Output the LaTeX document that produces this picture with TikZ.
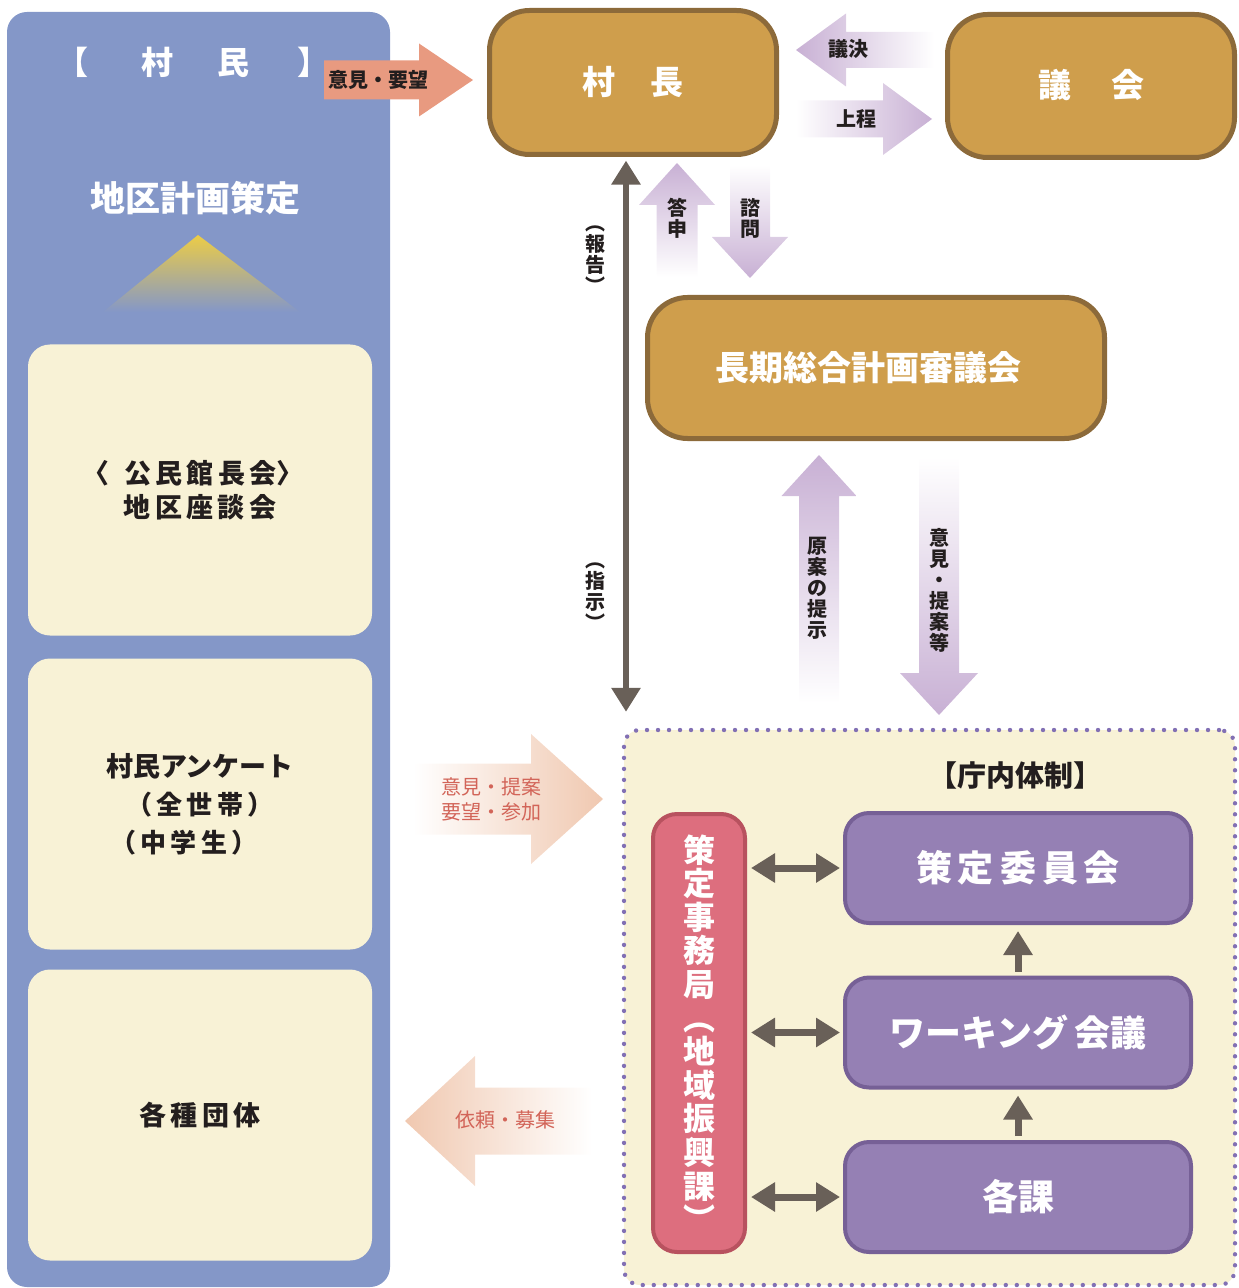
\documentclass[tikz,border=0pt]{standalone}
\usepackage{fontspec}
\setmainfont{Noto Sans CJK JP}
\usetikzlibrary{arrows.meta}

\definecolor{panelblue}{RGB}{132,151,200}
\definecolor{cream}{RGB}{248,242,214}
\definecolor{gold}{RGB}{207,158,76}
\definecolor{goldline}{RGB}{140,106,58}
\definecolor{rosefill}{RGB}{221,110,126}
\definecolor{roseline}{RGB}{184,82,95}
\definecolor{violetfill}{RGB}{149,128,180}
\definecolor{violetline}{RGB}{118,96,150}
\definecolor{dotviolet}{RGB}{130,112,180}
\definecolor{arrowgray}{RGB}{105,96,88}
\definecolor{lilac}{RGB}{200,176,212}
\definecolor{peach}{RGB}{240,200,176}
\definecolor{salmon}{RGB}{232,154,128}
\definecolor{redtext}{RGB}{210,100,88}
\definecolor{ink}{RGB}{35,30,30}
\definecolor{sunyellow}{RGB}{236,204,70}

\newcommand\harrow[7][]{%
  \path[#1] (#2,{#4-#5}) -- ({#3-(#7)},{#4-#5}) -- ({#3-(#7)},{#4-#6}) -- (#3,#4)
    -- ({#3-(#7)},{#4+#6}) -- ({#3-(#7)},{#4+#5}) -- (#2,{#4+#5}) -- cycle;}
\newcommand\varrow[7][]{%
  \path[#1] ({#4-#5},#2) -- ({#4-#5},{#3-(#7)}) -- ({#4-#6},{#3-(#7)}) -- (#4,#3)
    -- ({#4+#6},{#3-(#7)}) -- ({#4+#5},{#3-(#7)}) -- ({#4+#5},#2) -- cycle;}
\newcommand\gap{\hspace{2.2pt}}

\begin{document}
\begin{tikzpicture}[x=0.5pt,y=-0.5pt,
    panel/.style={fill=panelblue, rounded corners=10pt, inner sep=0pt},
    creambox/.style={fill=cream, rounded corners=11pt, inner sep=0pt, minimum width=172pt, minimum height=145.5pt, text=ink, font=\fontsize{13.5}{17}\selectfont\bfseries, align=center},
    goldbox/.style={fill=gold, draw=goldline, line width=2.5pt, rounded corners=20pt, inner sep=0pt, text=white, font=\fontsize{16.5}{20}\selectfont\bfseries},
    violetbox/.style={fill=violetfill, draw=violetline, line width=2pt, rounded corners=12pt, inner sep=0pt, minimum width=173pt, minimum height=55pt, text=white, font=\fontsize{18}{20}\selectfont\bfseries},
    lbl/.style={text=ink, font=\fontsize{10}{10.5}\selectfont\bfseries, align=center, inner sep=0pt},
    softlbl/.style={text=redtext, font=\fontsize{10}{12.5}\selectfont, align=center, inner sep=0pt},
    link/.style={draw=arrowgray, line width=3.5pt, >={Triangle[length=12pt,width=14pt]}}]
    \useasboundingbox (0,0) rectangle (1238,1288);
    \node[panel, minimum width=191.5pt, minimum height=637.5pt] (sonmin) at (198.5,649.5) {};
    \node[text=white, font=\fontsize{16}{20}\selectfont\bfseries] (sonmintitle) at (193,62) {【\hspace{27pt}村\hspace{22pt}民\hspace{24pt}】};
    \node[text=white, font=\fontsize{17.5}{20}\selectfont\bfseries] (keikaku) at (195,198) {地区計画策定};
    \shade[top color=sunyellow, bottom color=panelblue] (198,235) -- (300,312) -- (103,312) -- cycle;
    \node[creambox] (zadankai) at (200,490) {〈\hspace{7.5pt}公\gap 民\gap 館\gap 長\gap 会〉\hspace*{7pt}\\地\gap 区\gap 座\gap 談\gap 会};
    \node[creambox, font=\fontsize{13.5}{19}\selectfont\bfseries] (anketo) at (200,804) {村民アンケート\\{\fontsize{13}{19}\selectfont（\gap 全\gap 世\gap 帯\gap ）}\hspace*{16pt}\\{\fontsize{13}{19}\selectfont（\gap 中\gap 学\gap 生\gap ）}\hspace*{16pt}};
    \node[creambox] (dantai) at (200,1115) {各\gap 種\gap 団\gap 体};

    \node[goldbox, minimum width=143.5pt, minimum height=72pt] (sonchou) at (633,82.5) {\raisebox{2.5pt}{村\hspace{18pt}長}};
    \node[goldbox, minimum width=143.5pt, minimum height=71.5pt] (gikai) at (1091,86) {\raisebox{3pt}{議\hspace{20pt}会}};
    \node[goldbox, minimum width=228.5pt, minimum height=70.5pt, font=\fontsize{17}{20}\selectfont\bfseries] (shingikai) at (876,368) {長期総合計画審議会\hspace*{8pt}};

    \node[fill=cream, draw=dotviolet, line width=2.2pt, dash pattern=on 0pt off 5.5pt, line cap=round, rounded corners=8pt, minimum width=305.5pt, minimum height=277.5pt] (chounai) at (929.5,1007.5) {};
    \node[text=ink, font=\fontsize{14.5}{18}\selectfont\bfseries] (taisei) at (1015,776) {【庁内体制】};
    \node[fill=rosefill, draw=roseline, line width=2pt, rounded corners=12pt, inner sep=0pt, minimum width=46pt, minimum height=219pt, text=white, align=center, font=\fontsize{16}{16.8}\selectfont\bfseries] (jimu) at (699,1033) {策\\定\\事\\務\\局\\︵\\地\\域\\振\\興\\課\\︶};
    \node[violetbox] (iinkai) at (1018,868) {策\,定\,委\,員\,会};
    \node[violetbox] (working) at (1018,1032.5) {ワーキング\,会議};
    \node[violetbox] (kakka) at (1018,1197) {各課};

    \harrow[fill=salmon]{324}{473}{80}{19.5}{36.5}{54}
    \node[lbl] (youbou) at (378,80) {意見・要望};
    \harrow[left color=lilac, right color=white]{934}{796}{50}{18}{36.5}{-50}
    \node[lbl] (giketsu) at (848,49) {議決};
    \harrow[left color=white, right color=lilac]{796}{932}{119}{18.5}{36}{49}
    \node[lbl] (joutei) at (856,119) {上程};
    \varrow[top color=lilac, bottom color=white]{277}{163}{677}{20.5}{38}{-42}
    \node[lbl] (toushin) at (677,218) {答\\申};
    \varrow[top color=white, bottom color=lilac]{165}{278}{750}{20}{38}{41}
    \node[lbl] (shimon) at (750,218) {諮\\問};
    \varrow[top color=lilac, bottom color=white]{703}{455}{819}{20}{37.5}{-41}
    \node[lbl] (genan) at (817,588) {原\\案\\の\\提\\示};
    \varrow[top color=white, bottom color=lilac]{457}{715}{939}{20}{39}{42}
    \node[lbl] (teian) at (939,590) {意\\見\\・\\提\\案\\等};
    \harrow[left color=white, right color=peach]{413}{603}{799}{35.5}{65}{72}
    \node[softlbl] (sanka) at (491,799) {意見・提案\\要望・参加};
    \harrow[left color=peach, right color=white]{592}{405}{1121}{33.5}{65}{-70}
    \node[softlbl] (irai) at (505,1120) {依頼・募集};

    \coordinate (axis) at (626,0);
    \draw[link, line width=3.3pt, <->, shorten <=1.8pt, shorten >=8pt] (sonchou.south -| axis) -- (chounai.north -| axis);
    \node[lbl] (houkoku) at (595,260) {︵\\報\\告\\︶};
    \node[lbl] (shiji) at (595,597) {︵\\指\\示\\︶};
    \draw[link, <->, shorten <=2pt, shorten >=1.5pt] (jimu.east |- iinkai.west) -- (iinkai.west);
    \draw[link, <->, shorten <=2pt, shorten >=1.5pt] (jimu.east |- working.west) -- (working.west);
    \draw[link, <->, shorten <=2pt, shorten >=1.5pt] (jimu.east |- kakka.west) -- (kakka.west);
    \draw[link, ->, shorten <=2pt, shorten >=3pt] (working.north) -- (iinkai.south);
    \draw[link, ->, shorten <=2pt, shorten >=3pt] (kakka.north) -- (working.south);
\end{tikzpicture}
\end{document}
